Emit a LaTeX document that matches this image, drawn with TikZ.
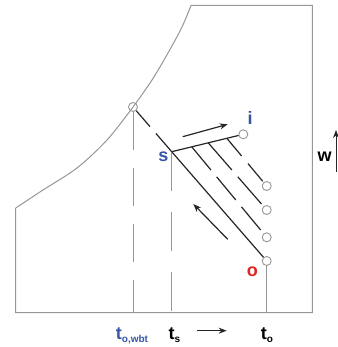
\documentclass[tikz,border=0pt]{standalone}
\usepackage{fontspec}
\setmainfont{Liberation Sans}
\usetikzlibrary{arrows,arrows.meta,calc,positioning}
\definecolor{labelblue}{RGB}{55,85,165}
\definecolor{labelred}{RGB}{225,35,35}
\definecolor{linegray}{RGB}{150,150,150}
\newcommand{\lowidx}[1]{\raisebox{-0.35ex}{\fontsize{10}{10}\selectfont #1}}

\begin{document}
\begin{tikzpicture}[
    x=1pt, y=-1pt,
    marker/.style={circle, draw=linegray, line width=0.9pt, minimum size=9pt, inner sep=0pt},
    chart/.style={draw=linegray, line width=1pt},
    guide/.style={draw=linegray, line width=1pt},
    mix/.style={draw=black!85, line width=1.2pt},
    hatch/.style={dash pattern=on 30pt off 9pt},
    lbl/.style={font=\bfseries\fontsize{18}{18}\selectfont, inner sep=0pt},
    arrow/.style={black!85, line width=1.2pt, -{Stealth[length=8pt, width=6pt]}}
]
\useasboundingbox (0,0) rectangle (337,347);

% Chart outline
\draw[chart] plot[smooth] coordinates {(15.7,208) (43,190) (77,168) (107,140) (133,107) (152,80) (168,53) (182,27) (191,5.5)}
    -- (312.3,5.5) -- (312.3,312.7) -- (15.7,312.7) -- (15.7,208);
\coordinate (bl) at (15.7,312.7);

% State points
\node[marker] (wb) at (133,107) {};
\coordinate (s) at (171.7,151.7);
\node[marker] (i) at (243.3,134.3) {};
\node[marker] (c1) at (266.7,186) {};
\node[marker] (c2) at (266.7,210) {};
\node[marker] (c3) at (266.7,237.3) {};
\node[marker] (o) at (266.7,261) {};

% Mixing lines
\draw[mix] (s) -- (i);
\draw[mix, dash pattern=on 21pt off 9pt on 40pt off 1pt] (wb) -- (s);
\draw[mix] (s) -- (o);
\coordinate (p1) at ($(s)!0.28!(i)$);
\coordinate (p2) at ($(s)!0.51!(i)$);
\coordinate (p3) at ($(s)!0.77!(i)$);
\draw[mix, hatch] (p1) -- (c3);
\draw[mix, dash pattern=on 36pt off 9pt] (p2) -- (c2);
\draw[mix, dash pattern=on 23pt off 10pt] (p3) -- (c1);

% Temperature guides
\draw[guide, dash pattern=on 38pt off 18pt] (wb) -- (wb |- bl);
\draw[guide, dash pattern=on 39pt off 21pt] (s) -- (s |- bl);
\draw[guide] (o) -- (o |- bl);

% Direction arrows
\coordinate (up1) at (182.7,136.7);
\coordinate (up2) at (227.7,124.3);
\draw[arrow] (up1) -- (up2);
\coordinate (back1) at (227.7,239.3);
\coordinate (back2) at (193.3,204);
\draw[arrow] (back1) -- (back2);
\coordinate (t1) at (196.7,330.7);
\coordinate (t2) at (226.7,330.7);
\draw[arrow] (t1) -- (t2);
\coordinate (w1) at (336,172);
\coordinate (w2) at (336,130);
\draw[arrow, line width=0.8pt] (w1) -- (w2);

% Labels
\node[lbl, text=labelblue] (slabel) at (163.3,156.7) {s};
\node[lbl, text=labelblue] (ilabel) at (250,118) {i};
\node[lbl, text=labelred] (olabel) at (252.3,271.7) {o};
\node[lbl] (wlabel) at (324.5,157) {w};
\node[lbl, text=labelblue, anchor=base] (twb) at (132,339) {t\lowidx{o,wbt}};
\node[lbl, anchor=base] (ts) at (174.5,339) {t\lowidx{s}};
\node[lbl, anchor=base] (to) at (267,339) {t\lowidx{o}};

\end{tikzpicture}
\end{document}
